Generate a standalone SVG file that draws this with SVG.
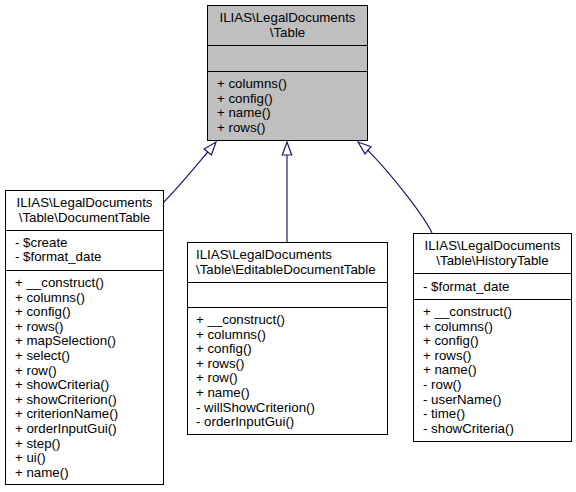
<svg xmlns="http://www.w3.org/2000/svg" width="576" height="492" viewBox="0 0 576 492">
<style>
text{font-family:"Liberation Sans",Arial,sans-serif;font-size:13.3px;fill:#000}
.c{text-anchor:middle}
.box{fill:#fff;stroke:#000;stroke-width:1}
.root{fill:#bfbfbf;stroke:#000;stroke-width:1}
.sep{stroke:#000;stroke-width:1}
.edge{fill:none;stroke:#191970;stroke-width:1.2}
.head{fill:#fff;stroke:#191970;stroke-width:1.2}
</style>
<rect width="576" height="492" fill="#fff"/>
<g id="connectors">
<path class="edge" d="M163,203 C178,188 196,166 207.8,152"/>
<polygon class="head" points="216,142 211.4,155 204.2,149"/>
<path class="edge" d="M287,242 L287,155"/>
<polygon class="head" points="287,142 291.7,155 282.3,155"/>
<path class="edge" d="M432,233 C425,218 395,178 368,150.3"/>
<polygon class="head" points="358,142 371,146.7 365,153.9"/>
</g>
<g id="Table">
<rect class="root" x="207.5" y="5.5" width="160" height="135"/>
<line class="sep" x1="207.5" y1="45.5" x2="367.5" y2="45.5"/>
<line class="sep" x1="207.5" y1="71.5" x2="367.5" y2="71.5"/>
<text class="c" x="287.5" y="22">ILIAS\LegalDocuments</text>
<text class="c" x="287.5" y="36.6">\Table</text>
<text x="217" y="88">+ columns()</text>
<text x="217" y="102.6">+ config()</text>
<text x="217" y="117.2">+ name()</text>
<text x="217" y="131.8">+ rows()</text>
</g>
<g id="DocumentTable">
<rect class="box" x="5.5" y="190.5" width="158" height="294"/>
<line class="sep" x1="5.5" y1="230.5" x2="163.5" y2="230.5"/>
<line class="sep" x1="5.5" y1="270.5" x2="163.5" y2="270.5"/>
<text class="c" x="84.5" y="207">ILIAS\LegalDocuments</text>
<text class="c" x="84.5" y="221.6">\Table\DocumentTable</text>
<text x="15" y="246.5">- $create</text>
<text x="15" y="261.1">- $format_date</text>
<text x="15" y="287">+ __construct()</text>
<text x="15" y="301.6">+ columns()</text>
<text x="15" y="316.2">+ config()</text>
<text x="15" y="330.8">+ rows()</text>
<text x="15" y="345.4">+ mapSelection()</text>
<text x="15" y="360">+ select()</text>
<text x="15" y="374.6">+ row()</text>
<text x="15" y="389.2">+ showCriteria()</text>
<text x="15" y="403.8">+ showCriterion()</text>
<text x="15" y="418.4">+ criterionName()</text>
<text x="15" y="433">+ orderInputGui()</text>
<text x="15" y="447.6">+ step()</text>
<text x="15" y="462.2">+ ui()</text>
<text x="15" y="476.8">+ name()</text>
</g>
<g id="EditableDocumentTable">
<rect class="box" x="187.5" y="242.5" width="200" height="192"/>
<line class="sep" x1="187.5" y1="282.5" x2="387.5" y2="282.5"/>
<line class="sep" x1="187.5" y1="307.5" x2="387.5" y2="307.5"/>
<text x="196" y="259">ILIAS\LegalDocuments</text>
<text x="196" y="273.6">\Table\EditableDocumentTable</text>
<text x="196" y="324">+ __construct()</text>
<text x="196" y="338.6">+ columns()</text>
<text x="196" y="353.2">+ config()</text>
<text x="196" y="367.8">+ rows()</text>
<text x="196" y="382.4">+ row()</text>
<text x="196" y="397">+ name()</text>
<text x="196" y="411.6">- willShowCriterion()</text>
<text x="196" y="426.2">- orderInputGui()</text>
</g>
<g id="HistoryTable">
<rect class="box" x="413.5" y="233.5" width="158" height="208"/>
<line class="sep" x1="413.5" y1="273.5" x2="571.5" y2="273.5"/>
<line class="sep" x1="413.5" y1="299.5" x2="571.5" y2="299.5"/>
<text class="c" x="492.5" y="250">ILIAS\LegalDocuments</text>
<text class="c" x="492.5" y="264.6">\Table\HistoryTable</text>
<text x="423" y="290.5">- $format_date</text>
<text x="423" y="316">+ __construct()</text>
<text x="423" y="330.6">+ columns()</text>
<text x="423" y="345.2">+ config()</text>
<text x="423" y="359.8">+ rows()</text>
<text x="423" y="374.4">+ name()</text>
<text x="423" y="389">- row()</text>
<text x="423" y="403.6">- userName()</text>
<text x="423" y="418.2">- time()</text>
<text x="423" y="432.8">- showCriteria()</text>
</g>
</svg>
